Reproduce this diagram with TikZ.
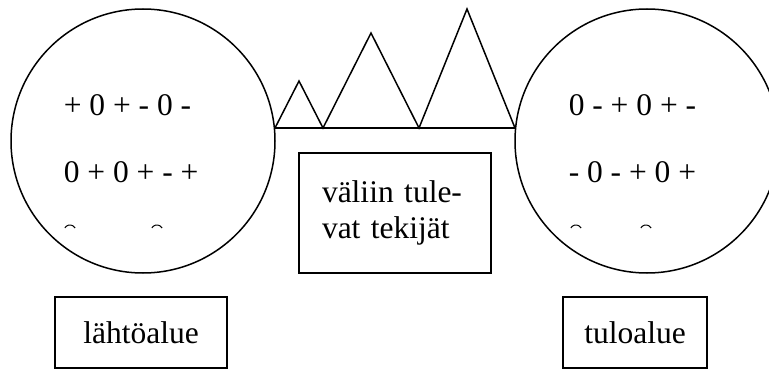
\documentclass[tikz,border=0pt]{standalone}
\usepackage{fontspec}
\setmainfont{Liberation Serif}

\begin{document}
\begin{tikzpicture}[
    x=1pt, y=-1pt,
    line width=1.5pt,
    every node/.style={
        font=\fontsize{31.5}{36}\selectfont,
    },
    zone/.style={circle, draw, minimum size=264pt, inner sep=0pt},
    signs/.style={anchor=west, inner sep=0pt},
    namebox/.style={draw, minimum height=71pt, inner sep=0pt},
  ]

  \clip (0,0) rectangle (769,369);

  % areas
  \node[zone] (lahto) at (143,141) {};
  \node[zone] (tulo) at (647,141) {};

  \node[signs] (lrow1) at (63,105) {+ 0 + - 0 -};
  \node[signs] (lrow2) at (63,172) {0 + 0 + - +};
  \node[signs] (rrow1) at (568,105) {0 - + 0 + -};
  \node[signs] (rrow2) at (568,172) {- 0 - + 0 +};

  % cut off third rows
  \foreach \x in {70,157,576,646}{
      \draw[line width=1pt] (\x-5.2,228) arc[start angle=210,end angle=330,radius=6];
    }

  % peaks between the areas
  \coordinate (b0) at (275,128);
  \coordinate (b1) at (323,128);
  \coordinate (b2) at (419,128);
  \coordinate (b3) at (515,128);
  \coordinate (p1) at (299,81);
  \coordinate (p2) at (371,33);
  \coordinate (p3) at (467,9);

  \draw (b0) -- (b3);
  \draw (b0) -- (p1) -- (b1) -- (p2) -- (b2) -- (p3) -- (b3);

  \node[draw, minimum width=192pt, minimum height=120pt, text width=146pt,
    inner xsep=23pt, align=left] (vali) at (395,213) {väliin tule-\\vat tekijät};

  \node[namebox, minimum width=172pt] (lahtobox) at (141,332.5) {lähtöalue};
  \node[namebox, minimum width=144pt] (tulobox) at (635,332.5) {tuloalue};
\end{tikzpicture}
\end{document}
